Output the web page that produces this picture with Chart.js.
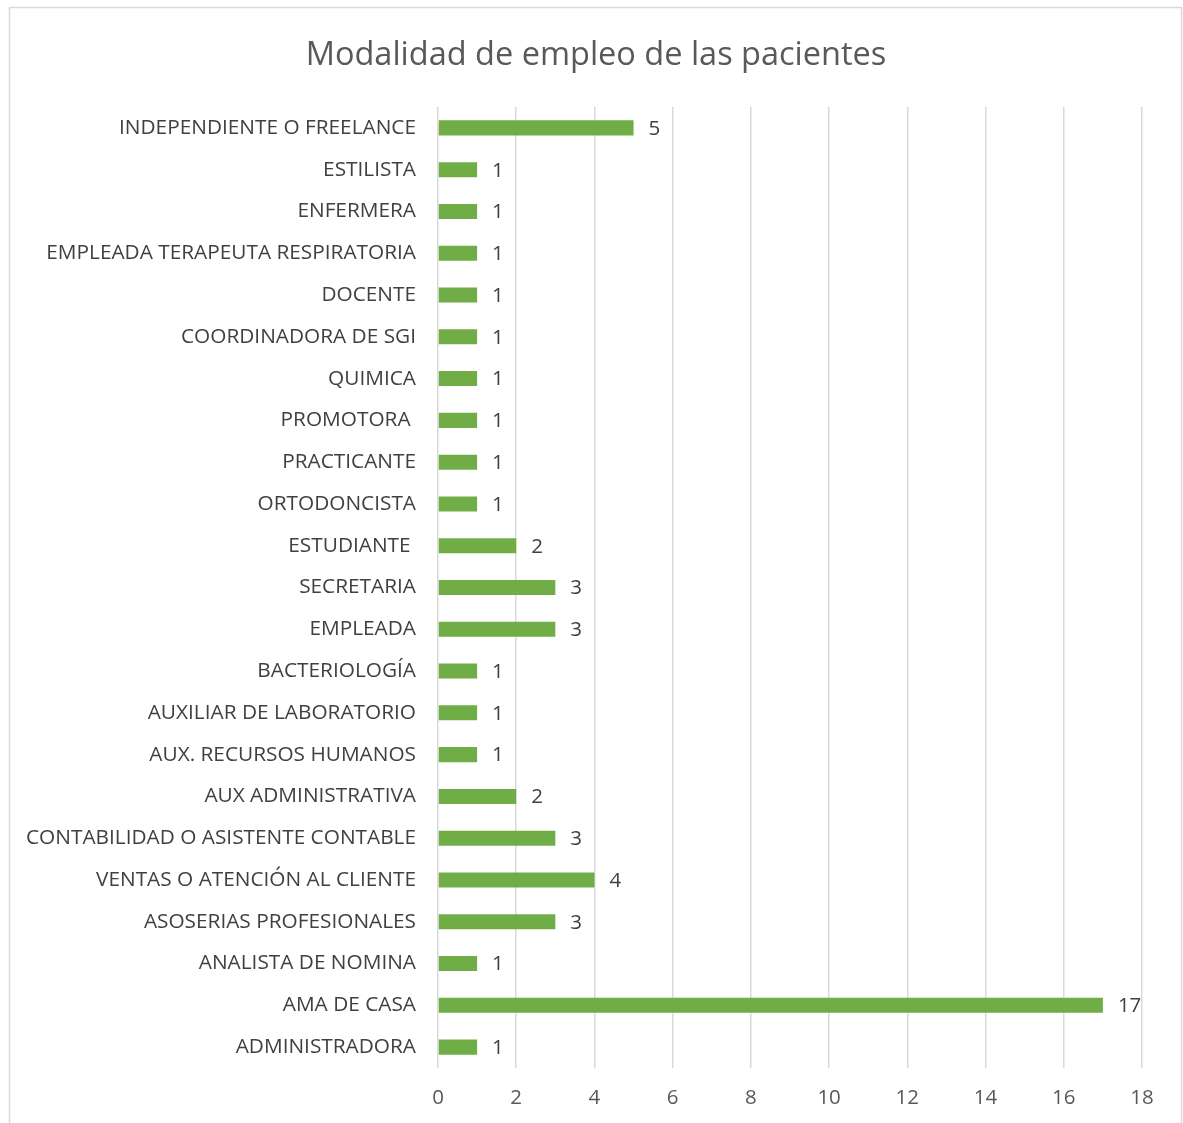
<!DOCTYPE html>
<html>
<head>
<meta charset="utf-8">
<script src="https://cdn.jsdelivr.net/npm/chart.js@4/dist/chart.umd.min.js"></script>
<style>
html,body{margin:0;padding:0;background:#fff;}
canvas{display:block;}
</style>
</head>
<body>
<canvas id="c" width="1183" height="1123"></canvas>
<script>
const categories = [
  "INDEPENDIENTE O FREELANCE",
  "ESTILISTA",
  "ENFERMERA",
  "EMPLEADA TERAPEUTA RESPIRATORIA",
  "DOCENTE",
  "COORDINADORA DE SGI",
  "QUIMICA",
  "PROMOTORA ",
  "PRACTICANTE",
  "ORTODONCISTA",
  "ESTUDIANTE ",
  "SECRETARIA",
  "EMPLEADA",
  "BACTERIOLOGÍA",
  "AUXILIAR DE LABORATORIO",
  "AUX. RECURSOS HUMANOS",
  "AUX ADMINISTRATIVA",
  "CONTABILIDAD O ASISTENTE CONTABLE",
  "VENTAS O ATENCIÓN AL CLIENTE",
  "ASOSERIAS PROFESIONALES",
  "ANALISTA DE NOMINA",
  "AMA DE CASA",
  "ADMINISTRADORA"
];
const values = [5,1,1,1,1,1,1,1,1,1,2,3,3,1,1,1,2,3,4,3,1,17,1];
const xTicks = [0,2,4,6,8,10,12,14,16,18];
const chartTitle = "Modalidad de empleo de las pacientes";

const FONT = "'Open Sans', 'Liberation Sans', sans-serif";

const frame = {
  id: 'frame',
  beforeDraw(chart) {
    const ctx = chart.ctx;
    ctx.save();
    ctx.fillStyle = '#ffffff';
    ctx.fillRect(0,0,chart.width,chart.height);
    ctx.strokeStyle = '#d9d9d9';
    ctx.lineWidth = 1.5;
    ctx.strokeRect(9.5, 7.5, 1172, 1140);
    ctx.restore();
  }
};

const titleShift = {
  id: 'titleShift',
  afterLayout(chart) {
    if (chart.titleBlock) {
      chart.titleBlock.left = 50;
      chart.titleBlock.right = 1142;
    }
  }
};

const valueLabels = {
  id: 'valueLabels',
  afterDatasetsDraw(chart) {
    const ctx = chart.ctx;
    const meta = chart.getDatasetMeta(0);
    ctx.save();
    ctx.font = "20.5px " + FONT;
    ctx.fillStyle = '#404040';
    ctx.textAlign = 'left';
    ctx.textBaseline = 'middle';
    meta.data.forEach((bar, i) => {
      ctx.fillText(String(values[i]), bar.x + 15, bar.y + 1);
    });
    ctx.restore();
  }
};

new Chart(document.getElementById('c'), {
  type: 'bar',
  data: {
    labels: categories,
    datasets: [{
      data: values,
      backgroundColor: '#70ad47',
      borderWidth: 0,
      categoryPercentage: 1,
      barPercentage: 0.36
    }]
  },
  options: {
    indexAxis: 'y',
    responsive: false,
    animation: false,
    layout: { padding: { left: 10, right: 41, top: 0, bottom: 0 } },
    plugins: {
      legend: { display: false },
      tooltip: { enabled: false },
      title: {
        display: true,
        text: chartTitle,
        color: '#595959',
        font: { family: FONT, size: 32.5, weight: 'normal' },
        padding: { top: 36, bottom: 32 }
      }
    },
    scales: {
      x: {
        min: 0,
        max: 18,
        afterBuildTicks(scale) { scale.ticks = xTicks.map(v => ({ value: v })); },
        afterFit(scale) { scale.height = 55; },
        grid: { color: '#d9d9d9', lineWidth: 1.5, drawTicks: false },
        border: { display: false },
        ticks: {
          color: '#595959',
          font: { family: FONT, size: 20.5 },
          padding: 18,
          maxRotation: 0
        }
      },
      y: {
        afterFit(scale) { scale.width = 428; },
        grid: { display: false, drawTicks: false },
        border: { display: false },
        ticks: {
          color: '#404040',
          font: { family: FONT, size: 20.8 },
          padding: 22,
          autoSkip: false
        }
      }
    }
  },
  plugins: [frame, titleShift, valueLabels]
});
</script>
</body>
</html>
